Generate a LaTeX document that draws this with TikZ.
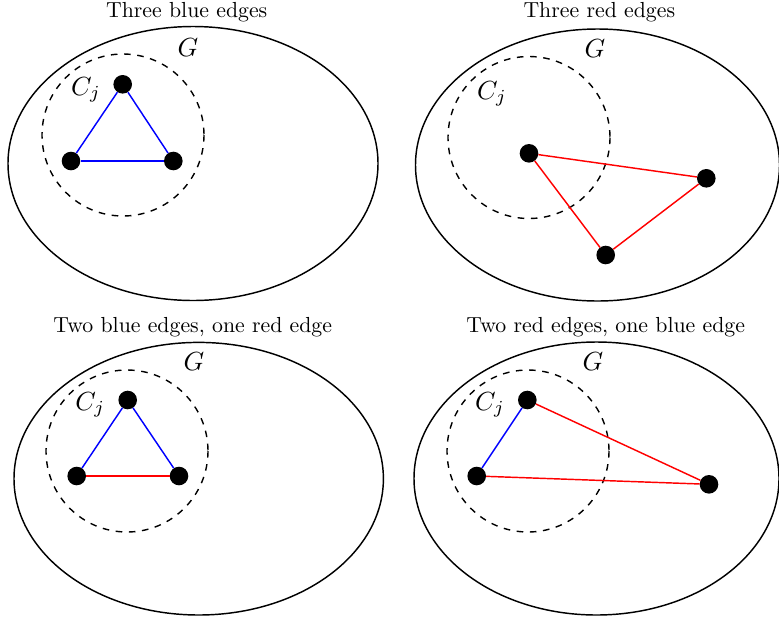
\documentclass[tikz,border=0pt]{standalone}
\usepackage{fontspec}
\usepackage{graphicx}
\newcommand\sbxtext[1]{\scalebox{2.18}{#1}}
\newcommand\sbxmath[1]{\scalebox{2.62}{#1}}
\tikzset{
  big/.style={inner sep=0pt},
  dot/.style={circle, fill=black, draw=none, inner sep=0pt, minimum size=18.6pt},
  region/.style={draw=black, line width=1.45pt},
  cj/.style={draw=black, line width=1.4pt, dash pattern=on 6.6pt off 6.6pt},
  bedge/.style={draw=blue, line width=1.45pt},
  redge/.style={draw=red, line width=1.45pt}
}
\begin{document}
\begin{tikzpicture}[x=1pt,y=-1pt]
\useasboundingbox (0,0) rectangle (779,622);
% Panel 1
\node[big, anchor=base] (t1) at (186.7,17.3) {\sbxtext{Three blue edges}};
\draw[region] (193,163.5) ellipse [x radius=185, y radius=137];
\draw[cj] (123,135) circle [radius=81];
\node[big, anchor=base] (g1) at (188,56.7) {\sbxmath{$G$}};
\node[big, anchor=base] (c1) at (86,95) {\sbxmath{$C_j$}};
\node[dot] (a1) at (122.7,84.3) {};
\node[dot] (a2) at (71,161) {};
\node[dot] (a3) at (173.3,161) {};
\draw[bedge] (a1) -- (a2);
\draw[bedge] (a2) -- (a3);
\draw[bedge] (a3) -- (a1);
% Panel 2
\node[big, anchor=base] (t2) at (599.3,17.3) {\sbxtext{Three red edges}};
\draw[region] (597.5,165) ellipse [x radius=182, y radius=136];
\draw[cj] (529,137.5) circle [radius=81];
\node[big, anchor=base] (g2) at (595,57.3) {\sbxmath{$G$}};
\node[big, anchor=base] (c2) at (492,99) {\sbxmath{$C_j$}};
\node[dot] (b1) at (529,153.3) {};
\node[dot] (b2) at (706.3,178.3) {};
\node[dot] (b3) at (605.7,255) {};
\draw[redge] (b1) -- (b2);
\draw[redge] (b2) -- (b3);
\draw[redge] (b3) -- (b1);
% Panel 3
\node[big, anchor=base] (t3) at (192.7,332) {\sbxtext{Two blue edges, one red edge}};
\draw[region] (198.7,478.7) ellipse [x radius=184.7, y radius=136.3];
\draw[cj] (127,451) circle [radius=81];
\node[big, anchor=base] (g3) at (194,370.7) {\sbxmath{$G$}};
\node[big, anchor=base] (c3) at (90.3,410) {\sbxmath{$C_j$}};
\node[dot] (d1) at (127.7,400) {};
\node[dot] (d2) at (76.7,476) {};
\node[dot] (d3) at (179,476) {};
\draw[bedge] (d1) -- (d2);
\draw[redge] (d2) -- (d3);
\draw[bedge] (d3) -- (d1);
% Panel 4
\node[big, anchor=base] (t4) at (605.7,332) {\sbxtext{Two red edges, one blue edge}};
\draw[region] (596.5,478.5) ellipse [x radius=182.5, y radius=136.5];
\draw[cj] (528,451) circle [radius=81];
\node[big, anchor=base] (g4) at (593,370.7) {\sbxmath{$G$}};
\node[big, anchor=base] (c4) at (490,410) {\sbxmath{$C_j$}};
\node[dot] (e1) at (527.3,400) {};
\node[dot] (e2) at (476.7,476) {};
\node[dot] (e3) at (709,484.3) {};
\draw[bedge] (e1) -- (e2);
\draw[redge] (e2) -- (e3);
\draw[redge] (e3) -- (e1);
\end{tikzpicture}
\end{document}
